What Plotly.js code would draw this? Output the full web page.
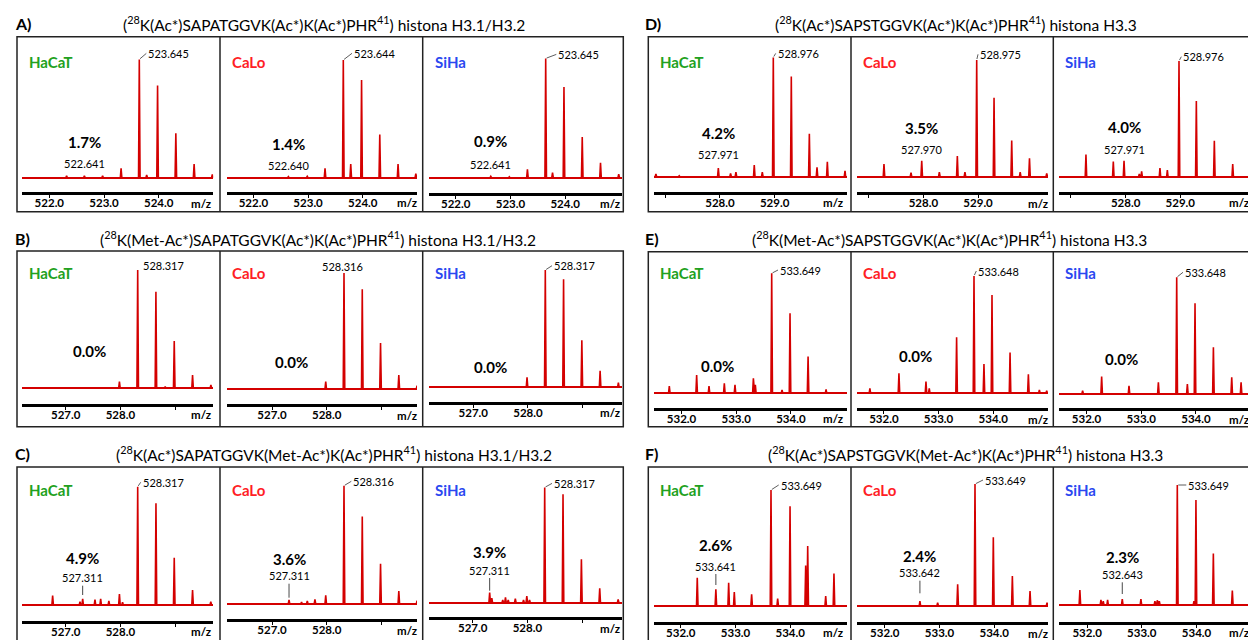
<!DOCTYPE html>
<html><head><meta charset="utf-8">
<script src="https://cdn.plot.ly/plotly-3.0.1.min.js"></script>
<style>html,body{margin:0;padding:0;background:#fff}#chart{width:1248px;height:640px}</style>
</head><body><div id="chart"></div><script>
// ---------------- DATA ----------------
const rowLetters = ['A)','B)','C)','D)','E)','F)'];
const rowTitles = [
  '(<sup>28</sup>K(Ac*)SAPATGGVK(Ac*)K(Ac*)PHR<sup>41</sup>) histona H3.1/H3.2',
  '(<sup>28</sup>K(Met-Ac*)SAPATGGVK(Ac*)K(Ac*)PHR<sup>41</sup>) histona H3.1/H3.2',
  '(<sup>28</sup>K(Ac*)SAPATGGVK(Met-Ac*)K(Ac*)PHR<sup>41</sup>) histona H3.1/H3.2',
  '(<sup>28</sup>K(Ac*)SAPSTGGVK(Ac*)K(Ac*)PHR<sup>41</sup>) histona H3.3',
  '(<sup>28</sup>K(Met-Ac*)SAPSTGGVK(Ac*)K(Ac*)PHR<sup>41</sup>) histona H3.3',
  '(<sup>28</sup>K(Ac*)SAPSTGGVK(Met-Ac*)K(Ac*)PHR<sup>41</sup>) histona H3.3'
];
const cellLines = ['HaCaT','CaLo','SiHa'];

// peaks (m/z, relative intensity %) per panel
const mzA1 = [522.316,522.641,522.974,523.312,523.645,523.78,523.979,524.313,524.647,524.98];
const inA1 = [1.7,1.7,1.7,7.9,100,2.3,78,37.5,11.5,2.8];
const mzA2 = [522.640,522.985,523.310,523.644,523.78,523.978,524.311,524.645,524.97];
const inA2 = [0.9,1.1,7.9,100,11.6,83,36.8,11.6,3.4];
const mzA3 = [522.641,522.98,523.311,523.645,523.77,523.979,524.313,524.647,524.98];
const inA3 = [1.1,0.8,7,100,4.2,76,34,12.6,3];
const mzB1 = [527.983,528.317,528.65,528.82,528.985,529.32,529.655];
const inB1 = [5.6,100,81.7,1.4,40,11.3,2.8];
const mzB2 = [527.982,528.316,528.65,528.984,529.318,529.652];
const inB2 = [6.3,100,86,39.7,12,2.9];
const mzB3 = [527.983,528.317,528.651,528.985,529.319,529.653];
const inB3 = [8.5,100,92,40,14,4];
const mzC1 = [526.762,527.262,527.311,527.536,527.64,527.79,527.983,528.04,528.317,528.651,528.985,529.32,529.653];
const inC1 = [7.9,2.8,5.1,4.5,5.1,3.4,9.3,2.3,100,86,40,12.7,2.8];
const mzC2 = [527.311,527.54,527.645,527.785,527.982,528.316,528.65,528.984,529.318,529.652];
const inC2 = [3.4,1.7,2.5,3.9,7.3,100,74,34,11,2.8];
const mzC3 = [527.311,527.35,527.55,527.60,527.65,527.78,527.93,527.99,528.04,528.317,528.652,528.988,529.323,529.66];
const inC3 = [8.7,4,2.3,4.6,2.3,3.5,2.3,5.8,2.3,100,94,37.6,12.4,2.9];
const mzD1 = [526.83,527.256,527.971,528.195,528.293,528.628,528.775,528.976,529.305,529.635,529.775,529.964,530.287];
const inD1 = [2.2,0.8,7.3,2.8,3.9,9.8,3.9,100,84,36,7.8,12.6,5];
const mzD2 = [527.28,527.774,527.970,528.292,528.621,528.76,528.975,529.292,529.615,529.77,529.94,530.255];
const inD2 = [10.9,3.4,13.7,4,17.7,4,100,67.7,31,4,15.7,2.9];
const mzD3 = [527.275,527.775,527.971,528.25,528.293,528.628,528.763,528.976,529.293,529.622,529.958];
const inD3 = [19.5,13.5,14.3,2.9,5.2,8,6.3,100,65.6,31.5,11.5];
const mzE1 = [531.777,532.277,532.503,532.783,532.978,533.314,533.35,533.649,533.838,533.984,534.314,534.643];
const inE1 = [6.1,15.3,6.1,8.3,7,12.5,7,100,2.8,66.7,30.6,3.3];
const mzE2 = [531.745,532.276,532.77,532.83,533.33,533.648,533.83,533.977,534.307,534.642,534.843,534.977];
const inE2 = [4.3,17,10,4.3,47.7,100,25,83.8,34.7,16.2,2.8,2.3];
const mzE3 = [531.928,532.276,532.776,533.313,533.648,533.843,533.983,534.319,534.654,534.825];
const inE3 = [2.9,14.9,7.1,10,100,8.6,77.7,40,14.3,10];
const mzF1 = [532.301,532.641,532.875,532.978,533.295,533.649,533.771,533.997,534.283,534.32,534.649,534.80];
const inF1 = [24.4,14.4,20,12,10,100,6.3,86,35,51.7,8.6,28];
const mzF2 = [532.642,532.966,533.332,533.649,533.984,534.332,534.655,534.966];
const inF2 = [4.1,2.7,17.8,100,56.3,24.6,12.3,2.7];
const mzF3 = [531.868,532.253,532.295,532.375,532.643,532.984,533.24,533.283,533.32,533.649,533.954,533.99,534.308,534.655];
const inF3 = [12.5,4.2,3.3,4.2,5,5,3.3,3.9,3.3,100,3.3,87.5,43,12];

const mainLabels = ['523.645','523.644','523.645','528.317','528.316','528.317','528.317','528.316','528.317',
                    '528.976','528.975','528.976','533.649','533.648','533.648','533.649','533.649','533.649'];
const pctLabels = ['1.7%','1.4%','0.9%','0.0%','0.0%','0.0%','4.9%','3.6%','3.9%',
                   '4.2%','3.5%','4.0%','0.0%','0.0%','0.0%','2.6%','2.4%','2.3%'];
const minorLabels = ['522.641','522.640','522.641','','','','527.311','527.311','527.311',
                     '527.971','527.970','527.971','','','','533.641','533.642','532.643'];
const minorMz = [522.641,522.640,522.641,null,null,null,527.311,527.311,527.311,
                 527.971,527.970,527.971,null,null,null,532.641,532.642,532.643];

// labelled ticks and tick marks per row
const tickLabVals = [[522,523,524],[527,528],[527,528],[528,529],[532,533,534],[532,533,534]];
const tickLabText = [['522.0','523.0','524.0'],['527.0','528.0'],['527.0','528.0'],['528.0','529.0'],['532.0','533.0','534.0'],['532.0','533.0','534.0']];
const tickMarkVals = [[522,523,524],[527,528,529],[527,528,529],[527,528,529],[532,533,534],[532,533,534]];

const panelMz = [mzA1,mzA2,mzA3,mzB1,mzB2,mzB3,mzC1,mzC2,mzC3,mzD1,mzD2,mzD3,mzE1,mzE2,mzE3,mzF1,mzF2,mzF3];
const panelIn = [inA1,inA2,inA3,inB1,inB2,inB3,inC1,inC2,inC3,inD1,inD2,inD3,inE1,inE2,inE3,inF1,inF2,inF3];

// ---------------- LAYOUT GEOMETRY (pixels) ----------------
const W = 1248, H = 640, K = 54.7;
const RED = '#d40000';
const cellColors = ['#21a121','#ff1d25','#2a48f0'];
const colBox = [[17,220],[220,422.7],[422.7,623.3],[648.3,851],[851,1053.3],[1053.3,1256]];
const colDom = [[22,213.3],[227,417],[428.5,621.5],[654,846.7],[857,1048],[1059.3,1248]];
const mzLabPx = [201,407,609.5,833,1038,1239];
const boxTop = [36.7,251,467,36.7,251.7,467];
const boxBot = [211.7,426.7,643,211.7,426.7,643];
const cellY = [62,272.5,489.5,62,272.5,489.5];
const titleY = [23.3,238.3,453.3,23.3,238.3,453.3];
const letterX = [13,13,13,642.7,642.7,642.7];
const titleX = [323.5,318,334,956,949,965];
const basePx = [177.7,177.7,177.7,388.3,389,387.3,605,604,602.7,176.7,176.7,177.3,393.3,393.3,394,606,606,605];
const axisPx = [192.3,191.7,192.7,403.7,404.3,401.7,620.7,619.3,617.3,191.7,192.3,191.7,407.7,408.3,408.3,621.7,622.3,621.7];
const hMain = [118.3,117.7,119.3,118.3,116,117.3,118.3,118.3,115.3,119.3,116.7,116.3,120,117.3,116.7,116,122,120];
const pxMain = [139.3,343.3,545.7,137.7,344,545.3,137.7,344,544.7,773.3,976.7,1179,771.7,974,1176.7,771,975,1177.3];
// main label offsets [dx, dy, leader]
const mainOff = [[9,-6,1],[10.7,-6.7,1],[12.6,-4,1],[5,-4.3,0],[null,-6.6,0],[8.7,-4.3,1],[5,-4.4,1],[9.3,-4.4,1],[9.3,-4,1],
                 [4.4,-4,1],[3.3,-5.7,1],[4.3,-4.3,1],[8.3,-3.3,1],[4.3,-5,1],[8.3,-5,1],[9.7,-5,1],[10,-4,1],[11,0,1]];
// minor label offset above baseline, pct offset, leader bottom
const minorOff = [14,12.7,13.7,0,0,0,27.3,28.3,32.7,22.7,27.7,27.3,0,0,0,40,33.3,30.7];
const pctOff = [36,33.7,37,37,26.6,20.7,47.3,44.7,51,44,49,50,27.3,37.6,35,61,50,48];
const leadBot = [null,null,null,null,null,null,10,6.3,12,null,null,null,null,null,null,21,12.7,11];
const pctAt = [null,null,null,527.43,527.365,527.324,null,null,null,null,null,null,532.654,532.57,532.643,null,null,null];

// ---------------- BUILD ----------------
const traces = [], annotations = [], shapes = [];
const layout = {width:W,height:H,margin:{l:0,r:0,t:0,b:0},paper_bgcolor:'#fff',plot_bgcolor:'rgba(0,0,0,0)',
  showlegend:false,font:{family:'Lato, sans-serif',color:'#000'},annotations,shapes};

for (let p=0;p<18;p++){
  const grp = Math.floor(p/3);
  const col = (grp<3?0:3) + p%3;
  const n = p+1, sfx = n===1?'':String(n);
  const [dl,dr] = colDom[col];
  const main = parseFloat(mainLabels[p]);
  const topPx = boxTop[grp]+2;
  const s = hMain[p]/100;
  layout['xaxis'+sfx] = {domain:[dl/W, dr/W], range:[main-(pxMain[p]-dl)/K, main+(dr-pxMain[p])/K], anchor:'y'+sfx,
    showline:true, linecolor:'#000', linewidth:3, ticks:'', ticklabelstandoff:-2,
    tickmode:'array', tickvals:tickLabVals[grp], ticktext:tickLabText[grp].map(t=>'<b>'+t+'</b>'),
    minor:{tickmode:'array', tickvals:tickMarkVals[grp], ticks:'outside', ticklen:3, tickwidth:1, tickcolor:'#000', showgrid:false},
    tickfont:{size:11.5,color:'#000'}, showgrid:false, zeroline:false, fixedrange:true};
  layout['yaxis'+sfx] = {domain:[1-axisPx[p]/H, 1-topPx/H], range:[-(axisPx[p]-basePx[p])/s, (basePx[p]-topPx)/s], anchor:'x'+sfx,
    showline:false, showgrid:false, showticklabels:false, ticks:'', zeroline:true, zerolinecolor:RED, zerolinewidth:2, fixedrange:true};

  // spectrum trace (narrow triangular peaks)
  const idx = panelMz[p].map((m,i)=>i).sort((a,b)=>panelMz[p][a]-panelMz[p][b]);
  const hw = 0.014, xs=[], ys=[];
  idx.forEach(i=>{const m=panelMz[p][i], v=panelIn[p][i]; xs.push(m-hw,m,m+hw); ys.push(0,v,0);});
  traces.push({type:'scatter',mode:'lines',x:xs,y:ys,xaxis:'x'+sfx,yaxis:'y'+sfx,line:{color:RED,width:1.6},
    fill:'tozeroy',fillcolor:RED,hoverinfo:'skip'});

  const xr='x'+sfx, yr='y'+sfx;
  // main peak label
  const [dx,dy,lead] = mainOff[p];
  if (lead) annotations.push({xref:xr,yref:yr,x:main,y:100,text:mainLabels[p],showarrow:true,arrowhead:0,arrowwidth:0.8,
      arrowcolor:'#333',ax:dx-2,ay:dy,xanchor:'left',yanchor:'middle',standoff:1,font:{size:11,color:'#000'}});
  else annotations.push({xref:xr,yref:yr,x:main,y:100,text:mainLabels[p],showarrow:false,
      xanchor:dx===null?'center':'left',yanchor:'middle',xshift:dx===null?-2:dx-2,yshift:-dy,font:{size:11,color:'#000'}});
  // minor peak label
  if (minorLabels[p]){
    if (leadBot[p]!==null) annotations.push({xref:xr,yref:yr,x:minorMz[p],y:0,text:minorLabels[p],showarrow:true,arrowhead:0,
        arrowwidth:0.9,arrowcolor:'#333',ax:0,ay:-minorOff[p],standoff:leadBot[p],font:{size:11,color:'#000'}});
    else annotations.push({xref:xr,yref:yr,x:minorMz[p],y:0,text:minorLabels[p],showarrow:false,yanchor:'middle',
        yshift:minorOff[p],font:{size:11,color:'#000'}});
  }
  // percentage
  annotations.push({xref:xr,yref:yr,x:minorMz[p]!==null?minorMz[p]:pctAt[p],y:0,text:'<b>'+pctLabels[p]+'</b>',
    showarrow:false,yanchor:'middle',yshift:pctOff[p],font:{size:15,color:'#000'}});
  // m/z label
  annotations.push({xref:'paper',yref:'paper',x:mzLabPx[col]/W,y:1-(axisPx[p]+11)/H,text:'<b>m/z</b>',showarrow:false,
    xanchor:'center',yanchor:'middle',font:{size:11.5,color:'#000'}});
  // cell line label
  annotations.push({xref:'paper',yref:'paper',x:(colBox[col][0]+10)/W,y:1-cellY[grp]/H,text:'<b>'+cellLines[p%3]+'</b>',
    showarrow:false,xanchor:'left',yanchor:'middle',font:{size:15,color:cellColors[p%3]}});
}

for (let g=0; g<6; g++){
  const c0 = g<3?0:3;
  const x0 = colBox[c0][0]/W, x1 = colBox[c0+2][1]/W, y0 = 1-boxBot[g]/H, y1 = 1-boxTop[g]/H;
  shapes.push({type:'rect',xref:'paper',yref:'paper',x0,x1,y0,y1,line:{color:'#222',width:1.5}});
  [c0+1,c0+2].forEach(c=>shapes.push({type:'line',xref:'paper',yref:'paper',x0:colBox[c][0]/W,x1:colBox[c][0]/W,y0,y1,line:{color:'#222',width:1.5}}));
  annotations.push({xref:'paper',yref:'paper',x:letterX[g]/W,y:1-titleY[g]/H,text:'<b>'+rowLetters[g]+'</b>',showarrow:false,
    xanchor:'left',yanchor:'middle',font:{size:16,color:'#000'}});
  annotations.push({xref:'paper',yref:'paper',x:titleX[g]/W,y:1-titleY[g]/H,text:rowTitles[g],showarrow:false,
    xanchor:'center',yanchor:'middle',font:{size:15.5,color:'#000'}});
}

Plotly.newPlot('chart', traces, layout, {displayModeBar:false, staticPlot:true});
</script></body></html>
